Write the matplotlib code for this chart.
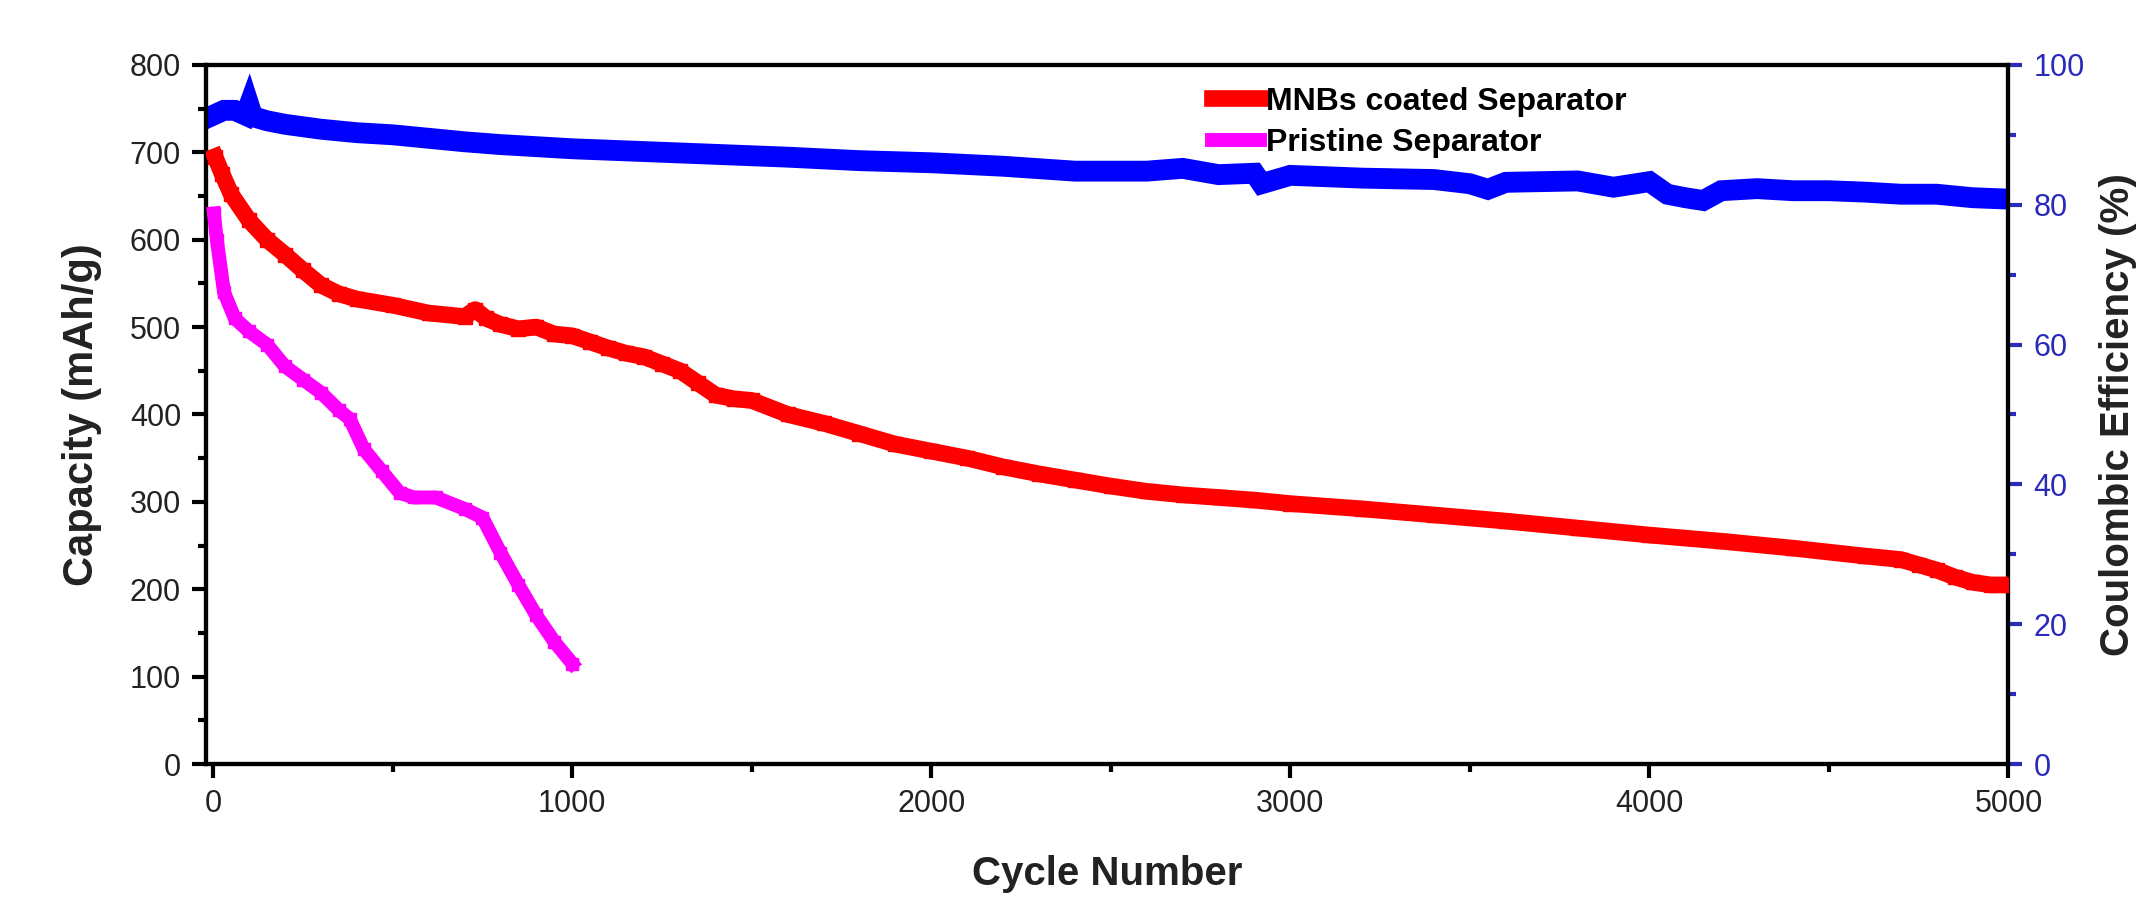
import matplotlib.pyplot as plt
from matplotlib.ticker import MultipleLocator

plt.rcParams['font.family'] = ['Liberation Sans', 'DejaVu Sans']

# MNBs coated separator, capacity (mAh/g)
mnb_cycles = [5, 25, 50, 100, 150, 200, 250, 300, 350, 400, 500, 600, 700, 730, 760,
              800, 850, 900, 950, 1000, 1050, 1100, 1150, 1200, 1250, 1300, 1350, 1400,
              1450, 1500, 1600, 1700, 1800, 1900, 2000, 2100, 2200, 2300, 2400, 2500,
              2600, 2700, 2800, 2900, 3000, 3200, 3400, 3600, 3800, 4000, 4200, 4400,
              4600, 4700, 4750, 4800, 4850, 4900, 4950, 5000]
mnb_capacity = [695, 675, 652, 622, 600, 583, 565, 548, 538, 532, 525, 516, 512, 520, 510,
                503, 498, 500, 492, 490, 483, 476, 470, 466, 458, 450, 436, 422,
                418, 416, 400, 390, 378, 366, 358, 350, 340, 332, 325, 318,
                312, 308, 305, 302, 298, 292, 285, 278, 270, 262, 255, 247,
                238, 234, 228, 222, 214, 208, 205, 205]

# Pristine separator, capacity (mAh/g)
pri_cycles = [2, 10, 30, 60, 100, 150, 200, 250, 300, 350, 380, 420, 470, 520, 560,
              620, 700, 750, 800, 850, 900, 950, 1000]
pri_capacity = [630, 600, 540, 510, 495, 480, 455, 440, 425, 405, 395, 360, 335, 310, 305,
                305, 292, 282, 242, 205, 170, 140, 115]

# Coulombic efficiency (%)
ce_cycles = [0, 30, 60, 90, 100, 110, 150, 200, 300, 400, 500, 600, 700, 800, 900, 1000,
             1200, 1400, 1600, 1800, 2000, 2200, 2400, 2600, 2700, 2800, 2900, 2920, 3000,
             3200, 3400, 3500, 3550, 3600, 3800, 3900, 4000, 4050, 4100, 4150, 4200, 4300,
             4400, 4500, 4600, 4700, 4800, 4900, 5000]
ce_values = [92.8, 93.5, 93.5, 92.8, 94.2, 92.6, 92.0, 91.5, 90.8, 90.3, 90.0, 89.5, 89.0,
             88.6, 88.3, 88.0, 87.6, 87.2, 86.8, 86.3, 86.0, 85.5, 84.8, 84.8, 85.2, 84.3,
             84.5, 83.0, 84.2, 83.8, 83.6, 83.0, 82.2, 83.2, 83.4, 82.5, 83.3, 81.5, 81.0,
             80.6, 82.0, 82.3, 82.0, 82.0, 81.8, 81.5, 81.5, 81.0, 80.8]

fig = plt.figure(figsize=(21.55, 9.01), dpi=100)
ax = fig.add_axes([0.0956, 0.152, 0.8364, 0.776])
ax2 = ax.twinx()

ax2.plot(ce_cycles, ce_values, color='#0000ff', lw=15, solid_joinstyle='miter', zorder=1)
ax.plot(mnb_cycles, mnb_capacity, color='#ff0000', lw=12, marker='s', ms=10,
        label='MNBs coated Separator', zorder=3)
ax.plot(pri_cycles, pri_capacity, color='#ff00ff', lw=10, marker='s', ms=9,
        label='Pristine Separator', zorder=3)

ax.set_zorder(ax2.get_zorder() + 1)
ax.patch.set_visible(False)

ax.set_xlim(-20, 5000)
ax.set_ylim(0, 800)
ax2.set_ylim(0, 100)

ax.xaxis.set_major_locator(MultipleLocator(1000))
ax.xaxis.set_minor_locator(MultipleLocator(500))
ax.yaxis.set_major_locator(MultipleLocator(100))
ax.yaxis.set_minor_locator(MultipleLocator(50))
ax2.yaxis.set_major_locator(MultipleLocator(20))
ax2.yaxis.set_minor_locator(MultipleLocator(10))

blue = '#2a2ab8'
for a in (ax, ax2):
    for s in a.spines.values():
        s.set_linewidth(3)
ax2.spines['right'].set_color(blue)
ax.tick_params(which='major', direction='out', length=10, width=3, labelsize=22, pad=8,
               labelcolor='#222222')
ax.tick_params(which='minor', direction='out', length=6, width=3)
ax2.tick_params(which='major', direction='out', length=10, width=3, labelsize=22,
                colors=blue, pad=8)
ax2.tick_params(which='minor', direction='out', length=6, width=3, colors=blue)

ax.set_xlabel('Cycle Number', fontsize=29, fontweight='bold', labelpad=26, color='#222222')
ax.set_ylabel('Capacity (mAh/g)', fontsize=30, fontweight='bold', labelpad=20, color='#222222')
ax2.set_ylabel('Coulombic Efficiency (%)', fontsize=29, fontweight='bold', labelpad=10,
               color='#222222')

ax.legend(loc='upper left', bbox_to_anchor=(0.542, 1.01), frameon=False,
          prop={'weight': 'bold', 'size': 23}, handlelength=1.5, handletextpad=0.2,
          labelspacing=0.35, markerscale=0.8)

fig.savefig('out.png', dpi=100)
